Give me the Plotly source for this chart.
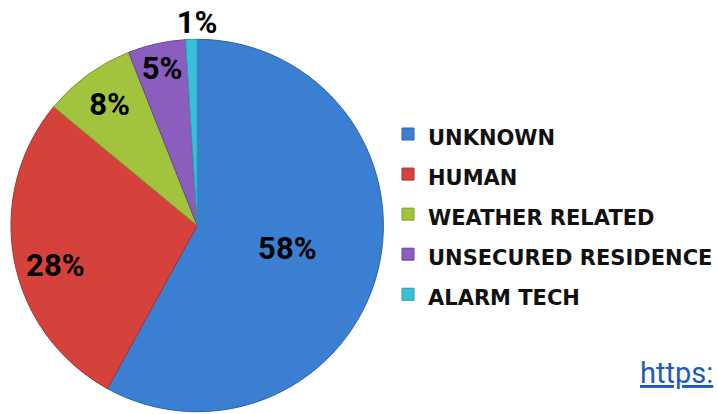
import plotly.graph_objects as go

categories = ["UNKNOWN", "HUMAN", "WEATHER RELATED", "UNSECURED RESIDENCE", "ALARM TECH"]
values = [58, 28, 8, 5, 1]
colors = ["#3b7fd3", "#d5423c", "#a2c33e", "#8a5dbf", "#3bbfd9"]
outline_colors = ["#2f62a3", "#a8322d", "#7e9a2c", "#6a4597", "#2a98ad"]
link_text = "https:"

NBSP = "\u00a0"
pct = [f"{v}%" for v in values]
# slice labels (the 1% one is shown above the pie, as in the original)
slice_text = [pct[0], NBSP + "<br>" + pct[1] + NBSP * 10, pct[2], pct[3], ""]
legend_labels = ["<span style='font-size:21px'>" + c + "</span>" for c in categories]

fig = go.Figure(
    go.Pie(
        labels=legend_labels,
        values=values,
        sort=False,
        direction="clockwise",
        rotation=0,
        marker=dict(colors=colors, line=dict(color=outline_colors, width=1)),
        text=slice_text,
        textinfo="text",
        textposition="inside",
        insidetextorientation="horizontal",
        textfont=dict(family="Roboto", size=31, color="black", weight="bold"),
        title=dict(
            text=pct[4],
            position="top center",
            font=dict(family="Roboto", size=31, color="black", weight="bold"),
        ),
        domain=dict(x=[11 / 718, 385 / 718], y=[0.0, 1.0]),
        hoverinfo="skip",
    )
)

fig.update_layout(
    width=718,
    height=414,
    margin=dict(l=0, r=0, t=0, b=0),
    paper_bgcolor="white",
    plot_bgcolor="white",
    uniformtext=dict(minsize=31, mode="show"),
    legend=dict(
        x=0.543,
        xanchor="left",
        y=0.7367,
        yanchor="top",
        font=dict(family="DejaVu Sans", size=28.5, color="#111111", weight="bold"),
        bgcolor="rgba(0,0,0,0)",
    ),
    annotations=[
        dict(
            text="<u>" + link_text + "</u>",
            x=641 / 718,
            y=1 - 373 / 414,
            xref="paper",
            yref="paper",
            xanchor="left",
            yanchor="middle",
            showarrow=False,
            font=dict(family="Roboto", size=29, color="#1a5cb8"),
        )
    ],
)

fig.write_html(
    "out.html",
    config={"displayModeBar": False},
    post_script="document.body.style.margin='0px';",
)
